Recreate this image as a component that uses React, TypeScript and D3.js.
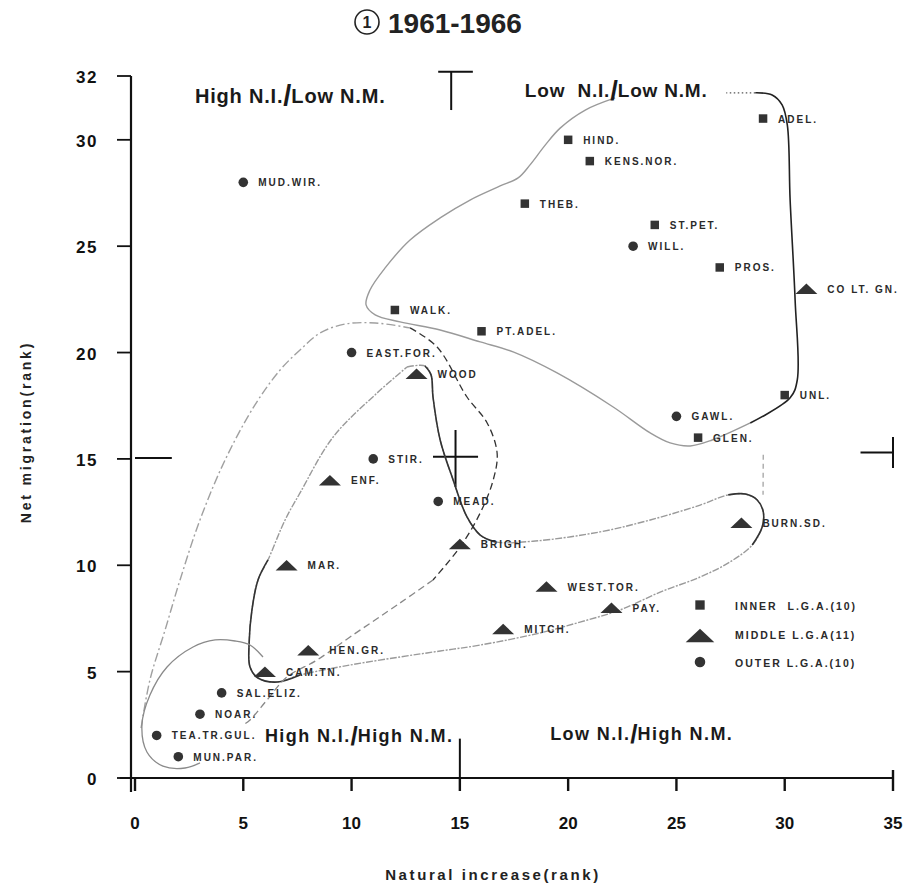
import * as d3 from "d3";
import { useEffect, useRef } from "react";

const width = 906;
const height = 891;

// LGA ranks, 1961-1966
const lgaNames = [
  "ADEL.", "HIND.", "KENS.NOR.", "MUD.WIR.", "THEB.", "ST.PET.", "WILL.", "PROS.",
  "CO LT. GN.", "WALK.", "PT.ADEL.", "EAST.FOR.", "WOOD", "UNL.", "GAWL.", "GLEN.",
  "STIR.", "ENF.", "MEAD.", "BURN.SD.", "BRIGH.", "MAR.", "WEST.TOR.", "PAY.",
  "MITCH.", "HEN.GR.", "CAM.TN.", "SAL.ELIZ.", "NOAR.", "TEA.TR.GUL.", "MUN.PAR.",
];
const naturalIncreaseRank = [
  29, 20, 21, 5, 18, 24, 23, 27, 31, 12, 16, 10, 13, 30, 25, 26,
  11, 9, 14, 28, 15, 7, 19, 22, 17, 8, 6, 4, 3, 1, 2,
];
const netMigrationRank = [
  31, 30, 29, 28, 27, 26, 25, 24, 23, 22, 21, 20, 19, 18, 17, 16,
  15, 14, 13, 12, 11, 10, 9, 8, 7, 6, 5, 4, 3, 2, 1,
];
const lgaRing = [
  "inner", "inner", "inner", "outer", "inner", "inner", "outer", "inner",
  "middle", "inner", "inner", "outer", "middle", "inner", "outer", "inner",
  "outer", "middle", "outer", "middle", "middle", "middle", "middle", "middle",
  "middle", "middle", "middle", "outer", "outer", "outer", "outer",
];

const xTicks = [0, 5, 10, 15, 20, 25, 30, 35];
const yTicks = [0, 5, 10, 15, 20, 25, 30];
const yTopLabel = "32";

const legendKeys = ["inner", "middle", "outer"];
const legendLabels = ["INNER  L.G.A.(10)", "MIDDLE L.G.A(11)", "OUTER L.G.A.(10)"];

// hand drawn group boundaries (rank units)
const innerBoundary: [number, number][] = [
  [22.17, 31.97], [20.79, 31.4], [19.63, 30.55], [18.94, 29.75], [18.24, 28.82],
  [17.69, 28.21], [16.86, 27.83], [15.47, 27.17], [14.09, 26.33], [12.7, 25.29],
  [11.55, 23.98], [10.85, 22.94], [10.67, 22.24], [11.09, 21.77], [12.24, 21.44],
  [14.09, 21.06], [15.94, 20.5], [17.46, 20.03], [19.49, 19.04], [22.08, 17.44],
  [23.79, 16.22], [24.71, 15.75], [25.64, 15.61], [26.65, 15.89], [28.41, 16.69],
];
const innerBoundaryDark: [number, number][] = [
  [28.41, 16.69], [30.25, 17.87], [30.58, 18.71], [30.48, 22.47], [30.25, 27.17],
  [30.12, 30.7], [29.88, 31.64], [29.42, 32.11], [28.64, 32.21],
];
const innerBoundaryDots: [number, number][] = [[28.64, 32.21], [27.3, 32.21]];

const middleBoundary: [number, number][] = [
  [12.56, 19.32], [13.39, 19.37], [13.67, 18.95], [13.76, 17.91], [14.09, 15.89],
  [14.69, 14.01], [15.33, 12.27], [15.94, 11.42], [16.63, 11.1], [18.48, 11.14],
  [21.48, 11.57], [23.79, 12.13], [26.1, 12.83], [27.39, 13.31], [28.18, 13.35],
  [28.73, 13.07], [29.01, 12.51], [28.96, 11.8], [28.5, 10.95], [27.48, 10.16],
  [26.1, 9.45], [24.25, 8.74], [22.4, 7.9], [20.55, 7.33], [18.71, 6.82],
  [15.94, 6.25], [14.09, 5.97], [12.24, 5.69], [9.93, 5.31], [7.62, 4.84],
  [6.56, 4.51], [5.68, 4.7], [5.31, 5.22], [5.27, 6.35], [5.4, 7.9],
  [5.68, 9.31], [6.14, 10.25], [6.93, 12.13], [7.62, 13.4], [9.15, 16.03],
  [11.18, 18.1], [12.56, 19.32],
];
const middleDarkRuns = [[1, 8], [13, 18], [29, 36]];

const outerDashed: [number, number][] = [
  [0.28, 2.35], [0.69, 4.61], [1.39, 6.96], [2.08, 9.31], [3.0, 12.13],
  [4.16, 14.95], [5.54, 17.54], [6.7, 19.18], [7.62, 20.12], [8.55, 20.92],
  [9.7, 21.34], [11.09, 21.39], [12.7, 21.16], [13.95, 20.26], [15.33, 17.91],
  [16.26, 16.69], [16.72, 15.28], [16.54, 14.01], [15.94, 12.46], [15.01, 10.86],
  [13.76, 9.31], [12.24, 8.23], [9.93, 6.63], [8.41, 5.55], [7.02, 4.75],
  [6.1, 3.67], [5.31, 2.73], [4.99, 2.49],
];
const outerLoop: [number, number][] = [
  [5.91, 5.69], [5.31, 6.25], [4.62, 6.44], [3.7, 6.49], [2.68, 6.16],
  [1.48, 5.22], [0.69, 3.9], [0.32, 2.49], [0.55, 1.22], [1.29, 0.56],
  [2.31, 0.47], [3.0, 0.71],
];
const gapDash: [number, number][] = [[29.01, 15.19], [29.0, 13.31]];

const quadrantText = [
  { a: "High N.I.", b: "Low N.M.", x: 2.77, y: 31.73, size: 20 },
  { a: "Low  N.I.", b: "Low N.M.", x: 18.0, y: 32.02, size: 19 },
  { a: "High N.I.", b: "High N.M.", x: 6.0, y: 1.7, size: 18 },
  { a: "Low N.I.", b: "High N.M.", x: 19.17, y: 1.8, size: 18 },
];

const LABEL_FONT = "'Liberation Sans', Arial, sans-serif";

function drawChart(el: SVGSVGElement) {
  const svg = d3.select(el);
  svg.selectAll("*").remove();

  const x = d3.scaleLinear().domain([0, 35]).range([135, 893]);
  const y = d3.scaleLinear().domain([0, 33]).range([778, 76]);

  const line = d3
    .line<[number, number]>()
    .x((d) => x(d[0]))
    .y((d) => y(d[1]))
    .curve(d3.curveCatmullRom.alpha(0.5));

  // title
  const title = svg.append("g");
  title
    .append("circle")
    .attr("cx", 367)
    .attr("cy", 22)
    .attr("r", 12)
    .attr("fill", "none")
    .attr("stroke", "#222")
    .attr("stroke-width", 1.6);
  title
    .append("text")
    .attr("x", 367)
    .attr("y", 28)
    .attr("text-anchor", "middle")
    .style("font", `bold 16px ${LABEL_FONT}`)
    .attr("fill", "#222")
    .text("1");
  title
    .append("text")
    .attr("x", 388)
    .attr("y", 33)
    .style("font", `bold 28px ${LABEL_FONT}`)
    .attr("fill", "#222")
    .text("1961-1966");

  // axes (hand drawn style)
  const axis = svg.append("g").attr("stroke", "#111").attr("fill", "none");
  axis
    .append("line")
    .attr("x1", x(-0.7))
    .attr("x2", x(35))
    .attr("y1", y(0))
    .attr("y2", y(0))
    .attr("stroke-width", 2.2);
  axis
    .append("line")
    .attr("x1", x(0) - 4)
    .attr("x2", x(0) - 4)
    .attr("y1", y(0) + 14)
    .attr("y2", y(33))
    .attr("stroke-width", 2.2);

  axis
    .selectAll("line.xtick")
    .data(xTicks)
    .join("line")
    .attr("class", "xtick")
    .attr("x1", (d) => x(d))
    .attr("x2", (d) => x(d))
    .attr("y1", (d) => (d === 35 ? y(0) - 8 : y(0)))
    .attr("y2", y(0) + 13)
    .attr("stroke-width", 2.4);

  axis
    .selectAll("line.ytick")
    .data([...yTicks, 33])
    .join("line")
    .attr("class", "ytick")
    .attr("x1", x(0) - 18)
    .attr("x2", x(0) - 4)
    .attr("y1", (d) => y(d))
    .attr("y2", (d) => y(d))
    .attr("stroke-width", 1.8);

  svg
    .append("g")
    .selectAll("text")
    .data(xTicks)
    .join("text")
    .attr("x", (d) => x(d))
    .attr("y", 829)
    .attr("text-anchor", "middle")
    .style("font", `bold 17px ${LABEL_FONT}`)
    .attr("fill", "#111")
    .text((d) => d);

  svg
    .append("g")
    .selectAll("text")
    .data([...yTicks.map((d) => ({ v: d, t: String(d) })), { v: 33, t: yTopLabel }])
    .join("text")
    .attr("x", 98)
    .attr("y", (d) => y(d.v) + 7)
    .attr("text-anchor", "end")
    .attr("letter-spacing", 1.5)
    .style("font", `bold 17px ${LABEL_FONT}`)
    .attr("fill", "#111")
    .text((d) => d.t);

  svg
    .append("text")
    .attr("transform", "translate(31,432) rotate(-90)")
    .attr("text-anchor", "middle")
    .attr("letter-spacing", 2.8)
    .style("font", `bold 14px ${LABEL_FONT}`)
    .attr("fill", "#222")
    .text("Net migration(rank)");

  svg
    .append("text")
    .attr("x", 493)
    .attr("y", 880)
    .attr("text-anchor", "middle")
    .attr("letter-spacing", 2.6)
    .style("font", `bold 15px ${LABEL_FONT}`)
    .attr("fill", "#222")
    .text("Natural increase(rank)");

  // quadrant division marks
  const marks = svg.append("g").attr("stroke", "#111").attr("stroke-width", 2).attr("fill", "none");
  const seg = (x1: number, y1: number, x2: number, y2: number) =>
    marks.append("line").attr("x1", x(x1)).attr("y1", y(y1)).attr("x2", x(x2)).attr("y2", y(y2));
  seg(14.6, 33.2, 14.6, 31.4);
  seg(14.0, 33.2, 15.6, 33.2);
  seg(14.8, 16.36, 14.8, 13.68);
  seg(13.76, 15.1, 15.84, 15.1);
  seg(0, 15.04, 1.7, 15.04);
  seg(33.5, 15.3, 35, 15.3);
  seg(35, 16.03, 35, 14.57);
  seg(15, 1.85, 15, 0);

  // boundaries
  const bounds = svg.append("g").attr("fill", "none");
  bounds
    .append("path")
    .attr("d", line(innerBoundary))
    .attr("stroke", "#9a9a9a")
    .attr("stroke-width", 1.4);
  bounds
    .append("path")
    .attr("d", line(innerBoundaryDark))
    .attr("stroke", "#222")
    .attr("stroke-width", 1.6);
  bounds
    .append("path")
    .attr("d", line(innerBoundaryDots))
    .attr("stroke", "#555")
    .attr("stroke-width", 1.3)
    .attr("stroke-dasharray", "1.5,2.5");

  bounds
    .append("path")
    .attr("d", line(middleBoundary))
    .attr("stroke", "#9a9a9a")
    .attr("stroke-width", 1.4)
    .attr("stroke-dasharray", "7,1.5,2,1.5");
  middleDarkRuns.forEach(([a, b]) => {
    bounds
      .append("path")
      .attr("d", line(middleBoundary.slice(a, b + 1)))
      .attr("stroke", "#333")
      .attr("stroke-width", 1.6);
  });

  bounds
    .append("path")
    .attr("d", line(outerDashed.slice(0, 13)))
    .attr("stroke", "#a0a0a0")
    .attr("stroke-width", 1.4)
    .attr("stroke-dasharray", "9,3,2,3");
  bounds
    .append("path")
    .attr("d", line(outerDashed.slice(12, 21)))
    .attr("stroke", "#333")
    .attr("stroke-width", 1.3)
    .attr("stroke-dasharray", "7,4");
  bounds
    .append("path")
    .attr("d", line(outerDashed.slice(20)))
    .attr("stroke", "#888")
    .attr("stroke-width", 1.3)
    .attr("stroke-dasharray", "7,4");

  bounds
    .append("path")
    .attr("d", line(outerLoop))
    .attr("stroke", "#8a8a8a")
    .attr("stroke-width", 1.3);
  bounds
    .append("path")
    .attr("d", line(gapDash))
    .attr("stroke", "#aaa")
    .attr("stroke-width", 1.4)
    .attr("stroke-dasharray", "5,4");

  // quadrant captions
  quadrantText.forEach((q, i) => {
    const t = svg
      .append("text")
      .attr("x", x(q.x))
      .attr("y", y(q.y))
      .attr("letter-spacing", i < 2 ? 0.8 : 1.4)
      .style("font", `bold ${q.size}px ${LABEL_FONT}`)
      .style("white-space", "pre")
      .attr("fill", "#1a1a1a");
    t.append("tspan").text(q.a);
    t.append("tspan")
      .style("font-size", `${q.size * 1.45}px`)
      .attr("dy", 3)
      .attr("letter-spacing", 0)
      .text("/");
    t.append("tspan").attr("dy", -3).text(q.b);
  });

  // points
  const pts = lgaNames.map((name, i) => ({
    name,
    ni: naturalIncreaseRank[i],
    nm: netMigrationRank[i],
    ring: lgaRing[i],
  }));

  const drawMarker = (
    g: d3.Selection<SVGGElement, unknown, null, undefined>,
    ring: string,
    cx: number,
    cy: number,
    scale: number
  ) => {
    if (ring === "inner") {
      const s = 8.5 * scale;
      g.append("rect")
        .attr("x", cx - s / 2)
        .attr("y", cy - s / 2)
        .attr("width", s)
        .attr("height", s)
        .attr("fill", "#333");
    } else if (ring === "middle") {
      const w = 22 * scale;
      const h = 10.5 * scale;
      g.append("path")
        .attr("d", `M${cx - w / 2},${cy + h / 2}L${cx},${cy - h / 2}L${cx + w / 2},${cy + h / 2}Z`)
        .attr("fill", "#333");
    } else {
      g.append("circle").attr("cx", cx).attr("cy", cy).attr("r", 4.8 * scale).attr("fill", "#333");
    }
  };

  const pointLayer = svg.append("g");
  pts.forEach((p) => {
    const g = pointLayer.append("g");
    const cx = x(p.ni);
    const cy = y(p.nm);
    drawMarker(g, p.ring, cx, cy, 1);
    g.append("text")
      .attr("x", cx + (p.ring === "middle" ? 21 : 15))
      .attr("y", cy + 4)
      .attr("letter-spacing", 2)
      .style("font", `bold 10px ${LABEL_FONT}`)
      .attr("fill", "#2a2a2a")
      .text(p.name);
  });

  // legend
  const legend = svg.append("g");
  legendKeys.forEach((k, i) => {
    const cy = 605 + i * 28.5;
    const g = legend.append("g");
    drawMarker(g, k, 700, k === "middle" ? cy + 2 : cy, k === "middle" ? 1.3 : 1.1);
    g.append("text")
      .attr("x", 735)
      .attr("y", cy + 5)
      .attr("letter-spacing", 2)
      .style("font", `bold 10.5px ${LABEL_FONT}`)
      .style("white-space", "pre")
      .attr("fill", "#2a2a2a")
      .text(legendLabels[i]);
  });
}

export default function App() {
  const ref = useRef<SVGSVGElement>(null);

  useEffect(() => {
    document.body.style.margin = "0";
    if (ref.current) drawChart(ref.current);
  }, []);

  return (
    <svg
      ref={ref}
      width={width}
      height={height}
      style={{ display: "block", background: "#fff" }}
    />
  );
}
